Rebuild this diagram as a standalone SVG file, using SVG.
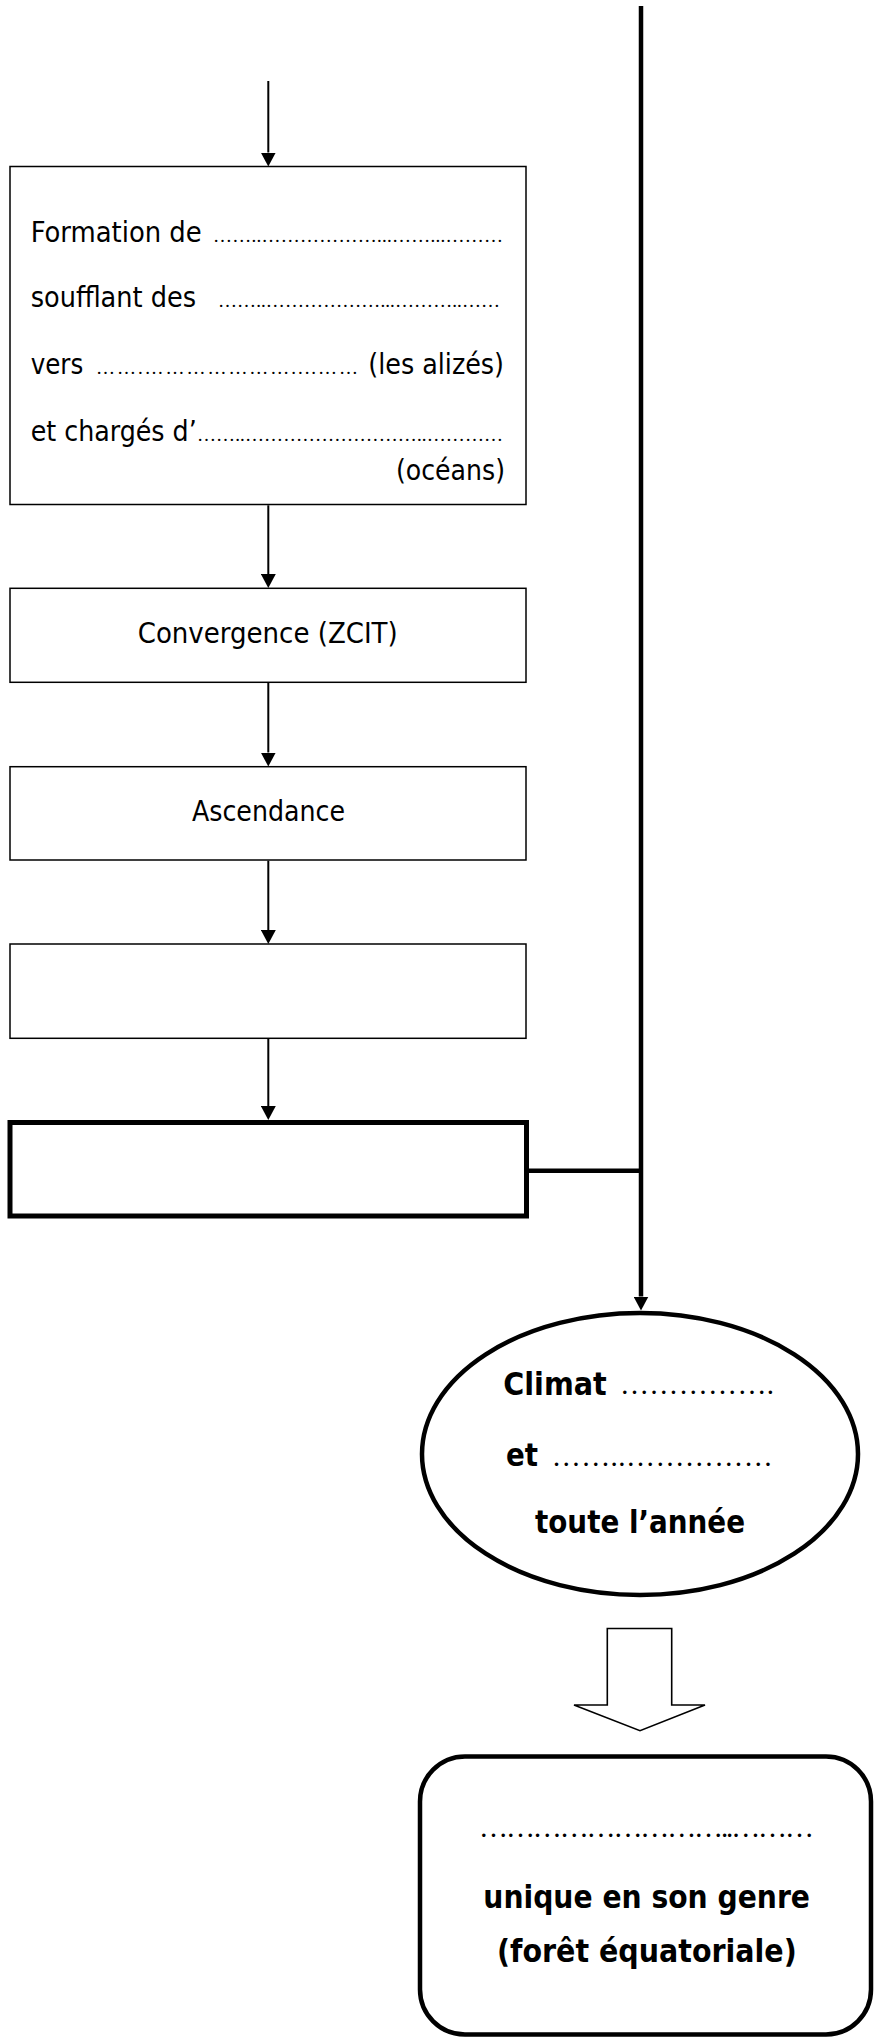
<svg xmlns="http://www.w3.org/2000/svg" width="875" height="2037" viewBox="0 0 875 2037">
<style>
.box{fill:#fff;stroke:#000;stroke-width:1.5}
.thick{fill:#fff;stroke:#000;stroke-width:5}
.bold4{fill:#fff;stroke:#000;stroke-width:4.5}
.ln{fill:none;stroke:#000;stroke-width:2}
.lnb{fill:none;stroke:#000;stroke-width:4.5}
.t{font-family:"DejaVu Sans Condensed","DejaVu Sans",sans-serif;font-size:28px;fill:#000}
.b{font-family:"DejaVu Sans Condensed","DejaVu Sans",sans-serif;font-size:31.5px;font-weight:bold;fill:#000}
.d{font-family:"Liberation Serif",serif;font-size:19px;fill:#000}
.dl{font-family:"Liberation Serif",serif;font-size:29px;fill:#000}
</style>
<defs>
<marker id="ah" markerUnits="userSpaceOnUse" markerWidth="14" markerHeight="15" viewBox="0 0 14 15" refX="0" refY="7.5" orient="auto">
<path d="M0,0 L14,7.5 L0,15 z" fill="#000"/>
</marker>
</defs>
<rect x="0" y="0" width="875" height="2037" fill="#fff"/>

<g id="connectors">
<path class="ln" d="M268.3,81 V152.5" marker-end="url(#ah)"/>
<path class="ln" d="M268.3,505.3 V574" marker-end="url(#ah)"/>
<path class="ln" d="M268.3,683 V752.5" marker-end="url(#ah)"/>
<path class="ln" d="M268.3,860.7 V930" marker-end="url(#ah)"/>
<path class="ln" d="M268.3,1039 V1106" marker-end="url(#ah)"/>
<path class="lnb" d="M641,6 V1296.5" marker-end="url(#ah)"/>
<path class="lnb" d="M529,1170.7 H641"/>
<polygon points="607.3,1628.5 671.7,1628.5 671.7,1705 705,1705 640,1730.7 574,1705 607.3,1705" fill="#fff" stroke="#000" stroke-width="1.6"/>
</g>

<g id="formation">
<rect class="box" x="10" y="166.5" width="516" height="338"/>
<text class="t" x="30.7" y="241.7" textLength="171" lengthAdjust="spacingAndGlyphs">Formation de</text>
<text class="d" x="213" y="241.7" textLength="290" lengthAdjust="spacing">……..………………...……...………</text>
<text class="t" x="30.7" y="307" textLength="165.3" lengthAdjust="spacingAndGlyphs">soufflant des</text>
<text class="d" x="218" y="307" textLength="282" lengthAdjust="spacing">……..………………...………..……</text>
<text class="t" x="30.7" y="373.5" textLength="52.6" lengthAdjust="spacingAndGlyphs">vers</text>
<text class="d" x="96" y="373.5" textLength="262" lengthAdjust="spacing">…….…………………....……</text>
<text class="t" x="368.3" y="373.5" textLength="135.7" lengthAdjust="spacingAndGlyphs">(les alizés)</text>
<text class="t" x="30.7" y="440.7" textLength="166" lengthAdjust="spacingAndGlyphs">et chargés d’</text>
<text class="d" x="197" y="440.7" textLength="306" lengthAdjust="spacing">……..………………………..…………</text>
<text class="t" x="396" y="479.5" textLength="109" lengthAdjust="spacingAndGlyphs">(océans)</text>
</g>

<g id="convergence">
<rect class="box" x="10" y="588.3" width="516" height="94"/>
<text class="t" x="137.7" y="643.3" textLength="260" lengthAdjust="spacingAndGlyphs">Convergence (ZCIT)</text>
</g>

<g id="ascendance">
<rect class="box" x="10" y="766.7" width="516" height="93.3"/>
<text class="t" x="192" y="820.7" textLength="153" lengthAdjust="spacingAndGlyphs">Ascendance</text>
</g>

<g id="empty-box">
<rect class="box" x="10" y="944" width="516" height="94.3"/>
</g>

<g id="thick-box">
<rect class="thick" x="10" y="1122.5" width="516.5" height="93.5"/>
</g>

<g id="climat">
<ellipse class="bold4" cx="640" cy="1454" rx="218" ry="141"/>
<text class="b" x="503.3" y="1395" textLength="103.4" lengthAdjust="spacingAndGlyphs">Climat</text>
<text class="dl" x="620" y="1394" textLength="154" lengthAdjust="spacing">…………….</text>
<text class="b" x="506" y="1465.7" textLength="32" lengthAdjust="spacingAndGlyphs">et</text>
<text class="dl" x="551.7" y="1465.7" textLength="221" lengthAdjust="spacing">……..……………</text>
<text class="b" x="535" y="1533" textLength="210" lengthAdjust="spacingAndGlyphs">toute l’année</text>
</g>

<g id="foret">
<rect class="bold4" x="420" y="1756.5" width="451" height="278" rx="45" ry="45"/>
<text class="dl" x="479" y="1836.7" textLength="335" lengthAdjust="spacing">………………………..………</text>
<text class="b" x="483.3" y="1908" textLength="326.7" lengthAdjust="spacingAndGlyphs">unique en son genre</text>
<text class="b" x="497" y="1961.7" textLength="299.7" lengthAdjust="spacingAndGlyphs">(forêt équatoriale)</text>
</g>
</svg>
